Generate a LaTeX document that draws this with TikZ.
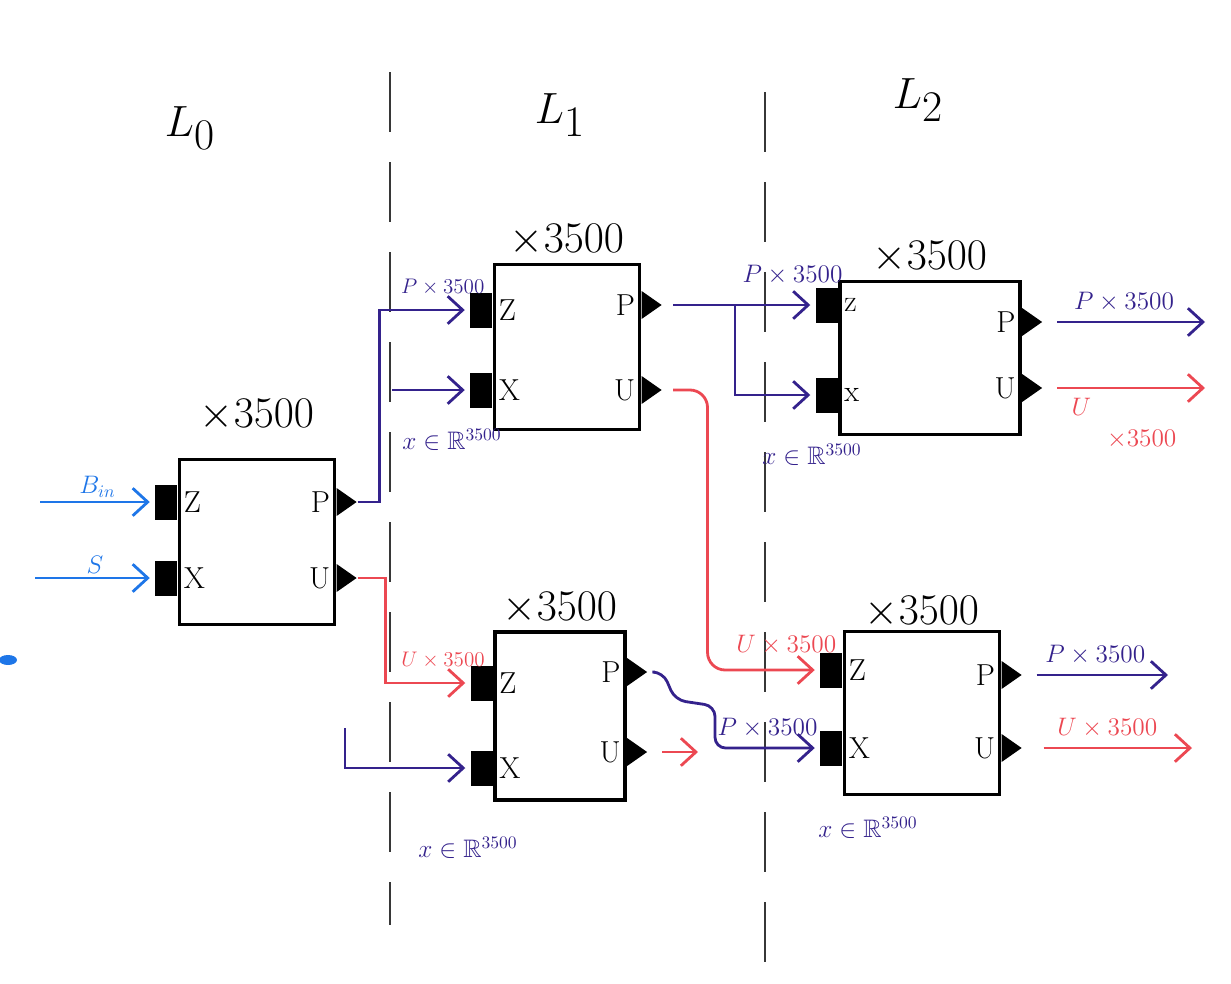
\documentclass[tikz,border=0pt]{standalone}
\usepackage{amsmath,amssymb}
\usepackage{xcolor}
\usepackage{tikz}
\usetikzlibrary{
  shapes.geometric, arrows.meta, positioning, calc
}
\definecolor{wirepurple}{RGB}{52,34,140}
\definecolor{wirered}{RGB}{236,72,82}
\definecolor{wireblue}{RGB}{30,118,232}
\definecolor{sepgray}{RGB}{55,55,55}
\tikzset{
  block/.style={
    rectangle, draw=black, line width=2pt, fill=white, inner sep=0pt
  },
  inport/.style={
    rectangle, fill=black, minimum width=4.4mm, minimum height=7mm,
    inner sep=0pt
  },
  outport/.style={
    isosceles triangle, isosceles triangle stretches, fill=black,
    minimum width=5.6mm, minimum height=4mm, inner sep=0pt
  },
  pinlabel/.style={font=\LARGE},
  copies/.style={font=\Huge},
  layer/.style={font=\fontsize{44}{46}\selectfont},
  wirelabel/.style={font=\Large, inner sep=2pt},
  smalllabel/.style={font=\large, inner sep=2pt},
  sepline/.style={line width=1.2pt, color=sepgray, dash pattern=on 12mm off 6mm},
  arrowpurple/.style={-{Straight Barb[length=3mm, width=5.5mm]}, line width=1.6pt, color=wirepurple},
  arrowred/.style={-{Straight Barb[length=3mm, width=5.5mm]}, line width=1.6pt, color=wirered},
  arrowblue/.style={-{Straight Barb[length=3mm, width=5.5mm]}, line width=1.6pt, color=wireblue}
}

\begin{document}
\begin{tikzpicture}[x=0.2mm, y=-0.2mm]
  \useasboundingbox (0,0) rectangle (1231,984);

  % Layers and separators
  \node[layer] (l0) at (190,128) {$L_0$};
  \node[layer] (l1) at (560,115) {$L_1$};
  \node[layer] (l2) at (918,100) {$L_2$};
  \draw[sepline] (390,72) -- (390,925);
  \draw[sepline] (765,92) -- (765,984);

  % Blocks
  \node[block, minimum width=31mm, minimum height=33mm,
    label={[copies, label distance=4mm]above:$\times3500$}] (A) at (257,542) {};
  \node[block, minimum width=29mm, minimum height=33mm,
    label={[copies, label distance=0mm]above:$\times3500$}] (B) at (567,347) {};
  \node[block, minimum width=26mm, minimum height=33.6mm,
    label={[copies, label distance=0mm]above:$\times3500$}] (C) at (560,716) {};
  \node[block, minimum width=36mm, minimum height=30.6mm,
    label={[copies, label distance=0mm]above:$\times3500$}] (D) at (930,358) {};
  \node[block, minimum width=31mm, minimum height=32.6mm,
    label={[copies, label distance=-1mm]above:$\times3500$}] (E) at (922,713) {};

  % Ports
  \node[inport, anchor=east, label={[pinlabel]right:Z}] (Az) at (A.west |- 0,502) {};
  \node[inport, anchor=east, label={[pinlabel]right:X}] (Ax) at (A.west |- 0,578) {};
  \node[outport, anchor=west, label={[pinlabel]left:P}] (Ap) at (A.east |- 0,502) {};
  \node[outport, anchor=west, label={[pinlabel]left:U}] (Au) at (A.east |- 0,578) {};

  \node[inport, anchor=east, label={[pinlabel]right:Z}] (Bz) at (B.west |- 0,310) {};
  \node[inport, anchor=east, label={[pinlabel]right:X}] (Bx) at (B.west |- 0,390) {};
  \node[outport, anchor=west, label={[pinlabel]left:P}] (Bp) at (B.east |- 0,305) {};
  \node[outport, anchor=west, label={[pinlabel]left:U}] (Bu) at (B.east |- 0,390) {};

  \node[inport, anchor=east, label={[pinlabel]right:Z}] (Cz) at (C.west |- 0,683) {};
  \node[inport, anchor=east, label={[pinlabel]right:X}] (Cx) at (C.west |- 0,768) {};
  \node[outport, anchor=west, label={[pinlabel]left:P}] (Cp) at (C.east |- 0,672) {};
  \node[outport, anchor=west, label={[pinlabel]left:U}] (Cu) at (C.east |- 0,752) {};

  \node[inport, anchor=east, label={[pinlabel]right:z}] (Dz) at (D.west |- 0,305) {};
  \node[inport, anchor=east, label={[pinlabel]right:x}] (Dx) at (D.west |- 0,395) {};
  \node[outport, anchor=west, label={[pinlabel]left:P}] (Dp) at (D.east |- 0,322) {};
  \node[outport, anchor=west, label={[pinlabel]left:U}] (Du) at (D.east |- 0,388) {};

  \node[inport, anchor=east, label={[pinlabel]right:Z}] (Ez) at (E.west |- 0,670) {};
  \node[inport, anchor=east, label={[pinlabel]right:X}] (Ex) at (E.west |- 0,748) {};
  \node[outport, anchor=west, label={[pinlabel]left:P}] (Ep) at (E.east |- 0,675) {};
  \node[outport, anchor=west, label={[pinlabel]left:U}] (Eu) at (E.east |- 0,748) {};

  % Inputs of L0
  \coordinate (bin) at (40,502);
  \coordinate (sin) at (35,578);
  \draw[arrowblue, shorten >=3pt] (bin) -- (Az.west)
    node[midway, above, wirelabel] {$B_{in}$};
  \draw[arrowblue, shorten >=3pt] (sin) -- (Ax.west)
    node[midway, above, wirelabel] {$S$};
  \fill[wireblue] (8,660) ellipse (9 and 5);

  % L0 -> L1
  \draw[arrowpurple, shorten >=3pt] (Ap.east) -- ++(22,0) |- (Bz.west)
    node[pos=0.75, above=2mm, xshift=3.6mm, smalllabel] {$P\times3500$};
  \draw[arrowred, shorten >=3pt] (Au.east) -- ++(28,0) |- (Cz.west)
    node[pos=0.75, above=2mm, xshift=3mm, smalllabel] {$U\times3500$};

  \coordinate (bxin) at (392,390);
  \draw[arrowpurple, shorten >=3pt] (bxin) -- (Bx.west);
  \node[wirelabel, text=wirepurple] (bxlab) at (452,440) {$x\in\mathbb{R}^{3500}$};
  \coordinate (cxin) at (345,728);
  \draw[arrowpurple, shorten >=3pt] (cxin) |- (Cx.west);
  \node[wirelabel, text=wirepurple] (cxlab) at (468,848) {$x\in\mathbb{R}^{3500}$};

  % L1 -> L2
  \draw[arrowpurple, shorten >=3pt, shorten <=6pt] (Bp.east) -- (Dz.west)
    node[pos=0.85, above=3mm, wirelabel] {$P\times3500$};
  \coordinate (split) at (735,305);
  \draw[arrowpurple, shorten >=3pt] (split) |- (Dx.west);
  \node[wirelabel, text=wirepurple] (dxlab) at (812,455) {$x\in\mathbb{R}^{3500}$};

  \draw[arrowred, rounded corners=10pt, shorten >=3pt, shorten <=6pt] (Bu.east) -- ++(45,0) |- (Ez.west)
    node[pos=0.85, above=2mm, wirelabel] {$U\times3500$};
  \draw[arrowpurple, rounded corners=6pt, shorten >=3pt, shorten <=4pt] (Cp.east) -- ++(15,0)
    -- ++(12,28) -- ++(40,6) |- (Ex.west)
    node[pos=0.75, above=1mm, wirelabel] {$P\times3500$};
  \node[wirelabel, text=wirepurple] (exlab) at (868,828) {$x\in\mathbb{R}^{3500}$};

  \coordinate (cuout) at (698,752);
  \draw[arrowred, shorten <=8pt] (Cu.east) -- (cuout);

  % Outputs of L2
  \coordinate (dpout) at (1205,322);
  \coordinate (duout) at (1205,388);
  \coordinate (epout) at (1168,675);
  \coordinate (euout) at (1192,748);
  \draw[arrowpurple, shorten <=8pt] (Dp.east) -- (dpout)
    node[midway, above=1mm, wirelabel] {$P\times3500$};
  \draw[arrowred, shorten <=8pt] (Du.east) -- (duout)
    node[midway, below=1mm, wirelabel, align=left] {$U$\\\hspace*{1.4em}$\times3500$};
  \draw[arrowpurple, shorten <=8pt] (Ep.east) -- (epout)
    node[midway, above=1mm, wirelabel] {$P\times3500$};
  \draw[arrowred, shorten <=12pt] (Eu.east) -- (euout)
    node[midway, above=1mm, wirelabel] {$U\times3500$};
\end{tikzpicture}
\end{document}
